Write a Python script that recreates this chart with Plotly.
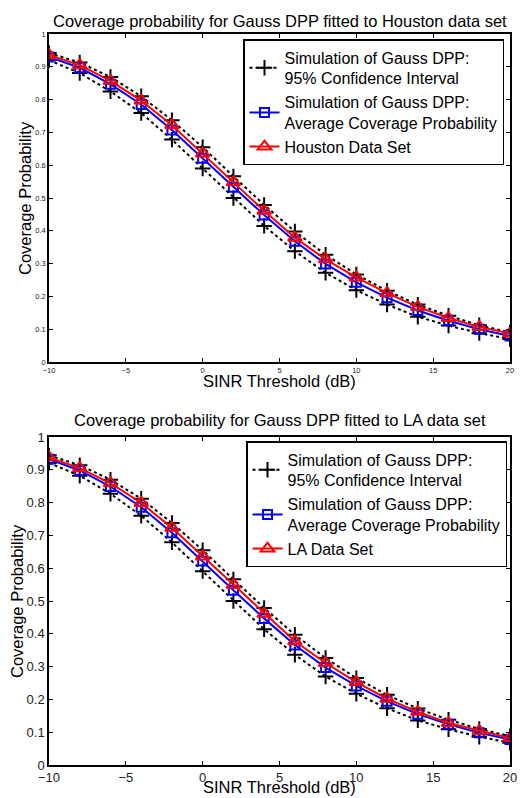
import plotly.graph_objects as go

x_db = [-10, -8, -6, -4, -2, 0, 2, 4, 6, 8, 10, 12, 14, 16, 18, 20]

# Houston panel
hou_ci_upper = [0.942, 0.913, 0.869, 0.810, 0.737, 0.655, 0.566, 0.479, 0.398, 0.327, 0.267, 0.217, 0.175, 0.141, 0.112, 0.090]
hou_ci_lower = [0.920, 0.881, 0.825, 0.759, 0.678, 0.590, 0.500, 0.415, 0.338, 0.272, 0.219, 0.175, 0.138, 0.111, 0.088, 0.070]
hou_avg = [0.930, 0.897, 0.847, 0.785, 0.707, 0.621, 0.533, 0.448, 0.368, 0.299, 0.243, 0.196, 0.157, 0.126, 0.100, 0.079]
hou_data = [0.936, 0.905, 0.857, 0.797, 0.722, 0.636, 0.548, 0.461, 0.379, 0.313, 0.258, 0.210, 0.168, 0.134, 0.107, 0.087]

# LA panel
la_ci_upper = [0.944, 0.914, 0.870, 0.812, 0.738, 0.655, 0.566, 0.479, 0.397, 0.326, 0.265, 0.214, 0.172, 0.138, 0.110, 0.088]
la_ci_lower = [0.921, 0.882, 0.827, 0.760, 0.679, 0.591, 0.500, 0.414, 0.336, 0.270, 0.217, 0.173, 0.136, 0.109, 0.086, 0.068]
la_avg = [0.932, 0.898, 0.849, 0.786, 0.708, 0.622, 0.533, 0.447, 0.366, 0.297, 0.241, 0.194, 0.155, 0.124, 0.098, 0.078]
la_data = [0.938, 0.905, 0.859, 0.799, 0.723, 0.636, 0.549, 0.461, 0.377, 0.311, 0.253, 0.202, 0.162, 0.128, 0.104, 0.082]

titles = ["Coverage probability for Gauss DPP fitted to Houston data set",
          "Coverage probability for Gauss DPP fitted to LA data set"]
legend_names = ["Simulation of Gauss DPP:<br>95% Confidence Interval",
                "Simulation of Gauss DPP:<br>Average Coverage Probability"]
data_names = ["Houston Data Set", "LA Data Set"]
x_label = "SINR Threshold (dB)"
y_label = "Coverage Probability"

FONT = "Liberation Sans, Arial, Helvetica, sans-serif"
W, H = 520, 798
xl, xr = 49 / W, 510 / W
panels = [
    dict(top=34, bot=362, xa="x", ya="y", legend="legend",
         up=hou_ci_upper, lo=hou_ci_lower, avg=hou_avg, dat=hou_data, tickfs=7.5,
         title_y=21, xlab_y=392, ylab_x=25, lg_right=504, lg_top=39),
    dict(top=437, bot=765, xa="x2", ya="y2", legend="legend2",
         up=la_ci_upper, lo=la_ci_lower, avg=la_avg, dat=la_data, tickfs=13,
         title_y=420, xlab_y=798, ylab_x=17, lg_right=507, lg_top=441),
]

fig = go.Figure()
for i, p in enumerate(panels):
    ci_style = dict(mode="lines+markers",
                    line=dict(color="black", width=2, dash="3px,3px"),
                    marker=dict(symbol="cross-thin", size=11, line=dict(color="black", width=2)))
    fig.add_trace(go.Scatter(x=x_db, y=p["up"], name=legend_names[0], xaxis=p["xa"], yaxis=p["ya"],
                             legend=p["legend"], legendgroup=f"ci{i}", showlegend=True, **ci_style))
    fig.add_trace(go.Scatter(x=x_db, y=p["lo"], name=legend_names[0], xaxis=p["xa"], yaxis=p["ya"],
                             legend=p["legend"], legendgroup=f"ci{i}", showlegend=False, **ci_style))
    fig.add_trace(go.Scatter(x=x_db, y=p["avg"], name=legend_names[1], xaxis=p["xa"], yaxis=p["ya"],
                             legend=p["legend"], mode="lines+markers",
                             line=dict(color="#0000ff", width=2),
                             marker=dict(symbol="square-open", size=9, color="#0000ff", line=dict(width=2))))
    fig.add_trace(go.Scatter(x=x_db, y=p["dat"], name=data_names[i], xaxis=p["xa"], yaxis=p["ya"],
                             legend=p["legend"], mode="lines+markers",
                             line=dict(color="#ff0000", width=2),
                             marker=dict(symbol="triangle-up-open", size=12, color="#ff0000", line=dict(width=2))))

layout = dict(
    width=W, height=H, autosize=False,
    margin=dict(l=0, r=0, t=0, b=0, pad=0, autoexpand=False),
    paper_bgcolor="white", plot_bgcolor="white",
    font=dict(family=FONT, color="black"),
    annotations=[],
)
for i, p in enumerate(panels):
    ytop = 1 - p["top"] / H
    ybot = 1 - p["bot"] / H
    sfx = "" if i == 0 else "2"
    axcommon = dict(showline=True, linecolor="black", linewidth=1.5, mirror="ticks",
                    ticks="inside", ticklen=4, tickwidth=1, tickcolor="black",
                    showgrid=False, zeroline=False, ticklabeloverflow="allow", automargin=False,
                    tickfont=dict(family=FONT, size=p["tickfs"], color="#222"))
    layout["xaxis" + sfx] = dict(domain=[xl, xr], range=[-10, 20], dtick=5, tick0=0,
                                 anchor="y" + sfx, **axcommon)
    layout["yaxis" + sfx] = dict(domain=[ybot, ytop], range=[0, 1], dtick=0.1, tick0=0,
                                 anchor="x" + sfx, **axcommon)
    layout["legend" + sfx] = dict(x=p["lg_right"] / W, y=1 - p["lg_top"] / H, xanchor="right", yanchor="top",
                                  bgcolor="white", bordercolor="black", borderwidth=1.5,
                                  font=dict(family=FONT, size=16, color="black"),
                                  itemwidth=30, tracegroupgap=0)
    mid_y = (ytop + ybot) / 2
    layout["annotations"] += [
        dict(text=titles[i], x=(xl + xr) / 2, y=1 - p["title_y"] / H, xref="paper", yref="paper",
             showarrow=False, xanchor="center", yanchor="middle", font=dict(family=FONT, size=16.5)),
        dict(text=x_label, x=(xl + xr) / 2, y=1 - p["xlab_y"] / H, xref="paper", yref="paper",
             showarrow=False, xanchor="center", yanchor="bottom", font=dict(family=FONT, size=16.5)),
        dict(text=y_label, x=p["ylab_x"] / W, y=mid_y, xref="paper", yref="paper",
             showarrow=False, xanchor="center", yanchor="middle", textangle=-90,
             font=dict(family=FONT, size=16.5)),
    ]

fig.update_layout(**layout)
fig.write_html("out.html", config={"displayModeBar": False},
               post_script="document.body.style.margin='0';document.body.style.overflow='hidden';")
